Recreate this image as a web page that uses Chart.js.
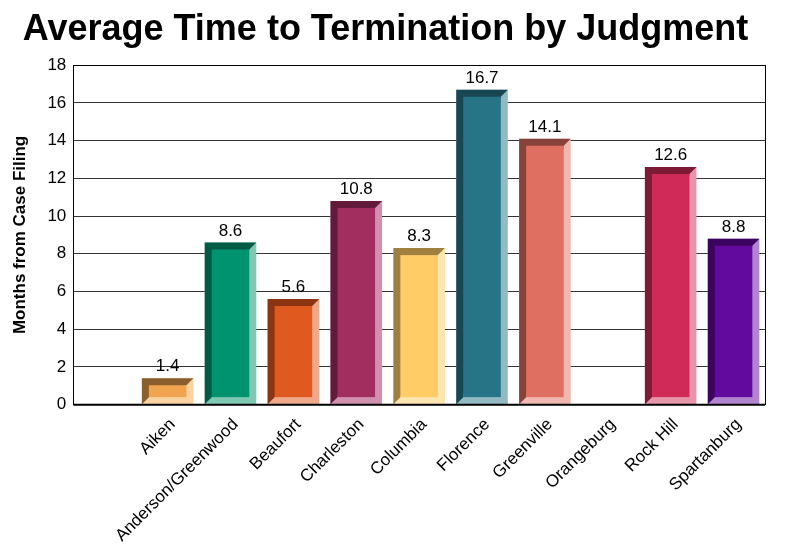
<!DOCTYPE html>
<html>
<head>
<meta charset="utf-8">
<script src="https://cdn.jsdelivr.net/npm/chart.js@4/dist/chart.umd.min.js"></script>
<style>
  html, body { margin: 0; padding: 0; background: #fff; }
  #wrap { width: 785px; height: 548px; position: relative; }
</style>
</head>
<body>
<div id="wrap"><canvas id="chart"></canvas></div>
<script>
// categories (first slot is left blank in the original)
const courts = ['', 'Aiken', 'Anderson/Greenwood', 'Beaufort', 'Charleston', 'Columbia',
                'Florence', 'Greenville', 'Orangeburg', 'Rock Hill', 'Spartanburg'];
const months = [null, 1.4, 8.6, 5.6, 10.8, 8.3, 16.7, 14.1, null, 12.6, 8.8];
const yTicks = [0, 2, 4, 6, 8, 10, 12, 14, 16, 18];

// face / dark bevel (top+left) / light bevel (right+bottom)
const faceCol  = ['#fff', '#F0A450', '#009370', '#E05A20', '#A22E60', '#FFCC66', '#287487', '#DF6F60', '#fff', '#CF2A58', '#62099E'];
const darkCol  = ['#fff', '#8B5E2E', '#005A44', '#8A3412', '#641A3A', '#A08040', '#184652', '#87433A', '#fff', '#7D1A35', '#3B055F'];
const lightCol = ['#fff', '#FAD3A0', '#7FC9B3', '#F0A88A', '#D090B0', '#FFE6B0', '#93BAC3', '#EFB7B0', '#fff', '#E795AB', '#B084CE'];

const FONT = "'Liberation Sans', Arial, sans-serif";

// draws each bar as a bevelled box, using the bar element geometry from Chart.js
const bevelBars = {
  id: 'bevelBars',
  afterDatasetsDraw(chart){
    const ctx = chart.ctx;
    const meta = chart.getDatasetMeta(0);
    const b = 7;
    meta.data.forEach((bar, i) => {
      if(months[i] == null) return;
      const w = bar.width;
      const x0 = bar.x - w/2, x1 = bar.x + w/2;
      const y0 = bar.y, y1 = bar.base;
      ctx.save();
      // light: right + bottom
      ctx.fillStyle = lightCol[i];
      ctx.fillRect(x0, y0, w, y1 - y0);
      // dark: top + left
      ctx.fillStyle = darkCol[i];
      ctx.beginPath();
      ctx.moveTo(x0, y1); ctx.lineTo(x0, y0); ctx.lineTo(x1, y0);
      ctx.lineTo(x1 - b, y0 + b); ctx.lineTo(x0 + b, y1 - b);
      ctx.closePath(); ctx.fill();
      // face
      ctx.fillStyle = faceCol[i];
      ctx.fillRect(x0 + b, y0 + b, w - 2*b, Math.max(0, y1 - y0 - 2*b));
      // value label
      ctx.fillStyle = '#000';
      ctx.font = '17px ' + FONT;
      ctx.textAlign = 'center';
      ctx.textBaseline = 'bottom';
      ctx.fillText(months[i].toFixed(1), bar.x, y0 - 3);
      ctx.restore();
    });
    // frame around plot area
    const a = chart.chartArea;
    ctx.save();
    ctx.strokeStyle = '#000';
    ctx.lineWidth = 1;
    ctx.strokeRect(Math.round(a.left) + 0.5, Math.round(a.top) + 0.5, Math.round(a.right - a.left), Math.round(a.bottom - a.top));
    ctx.beginPath();
    ctx.lineWidth = 2;
    ctx.moveTo(a.left, a.bottom); ctx.lineTo(a.right, a.bottom);
    ctx.stroke();
    ctx.restore();
  }
};

new Chart(document.getElementById('chart'), {
  type: 'bar',
  data: {
    labels: courts,
    datasets: [{
      data: months,
      backgroundColor: 'rgba(0,0,0,0)',
      borderWidth: 0,
      categoryPercentage: 0.82,
      barPercentage: 1.0,
    }]
  },
  plugins: [bevelBars],
  options: {
    responsive: true, maintainAspectRatio: false, animation: false,
    devicePixelRatio: 1,
    layout: { padding: { left: 6, right: 20, top: 0, bottom: 0 } },
    plugins: {
      legend: { display: false },
      tooltip: { enabled: false },
      title: {
        display: true,
        text: 'Average Time to Termination by Judgment',
        color: '#000',
        font: { family: FONT, size: 36, weight: 'bold' },
        padding: { top: 8, bottom: 14 },
      },
    },
    scales: {
      x: {
        grid: { display: false },
        border: { display: false },
        ticks: {
          color: '#000', font: { family: FONT, size: 17 },
          maxRotation: 45, minRotation: 45, autoSkip: false, padding: 2, labelOffset: 5,
        },
      },
      y: {
        min: 0, max: 18,
        afterBuildTicks: axis => { axis.ticks = yTicks.map(v => ({ value: v })); },
        grid: { color: '#333', lineWidth: 1, drawTicks: false },
        border: { display: false },
        ticks: { color: '#000', font: { family: FONT, size: 17 }, padding: 7 },
        title: {
          display: true, text: 'Months from Case Filing', color: '#000',
          font: { family: FONT, size: 17, weight: 'bold' }, padding: { bottom: 10 },
        },
      }
    }
  }
});
</script>
</body>
</html>
